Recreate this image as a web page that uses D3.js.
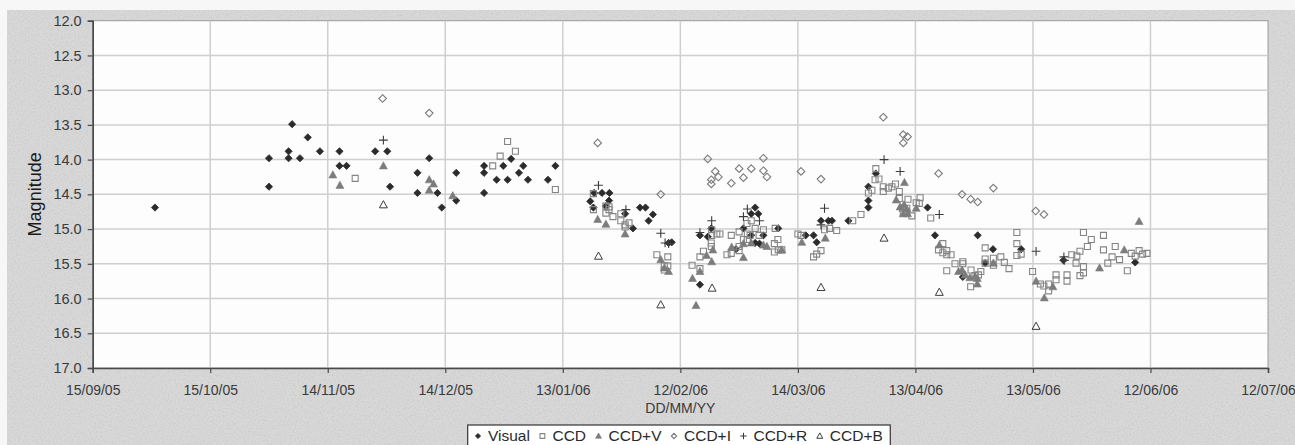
<!DOCTYPE html>
<html><head><meta charset="utf-8">
<script src="https://cdn.jsdelivr.net/npm/d3@7"></script>
<style>
html,body{margin:0;padding:0;background:#fafafa;}
svg{display:block;font-family:"Liberation Sans",Arial,sans-serif;}
</style></head>
<body>
<svg id="chart" width="1295" height="445"></svg>
<script>
// JD - 2453000 ; magnitude
const jdBase = 628.5; // JD 2453628.5 = 15/09/05
const xTickLabels = ["15/09/05","15/10/05","14/11/05","14/12/05","13/01/06","12/02/06","14/03/06","13/04/06","13/05/06","12/06/06","12/07/06"];
const yTicks = [12.0,12.5,13.0,13.5,14.0,14.5,15.0,15.5,16.0,16.5,17.0];
const seriesNames = ["Visual","CCD","CCD+V","CCD+I","CCD+R","CCD+B"];

const visual = [
[644.4,14.69],[673.5,13.98],[673.5,14.39],[678.5,13.88],[678.5,13.98],[679.4,13.49],[681.4,13.98],[683.4,13.68],[686.5,13.88],
[691.5,13.88],[691.5,14.09],[693.3,14.09],[700.6,13.88],[703.7,13.88],[704.4,14.39],[711.4,14.19],[711.4,14.48],[714.4,13.98],
[716.5,14.48],[717.6,14.69],[721.3,14.19],[721.3,14.59],[728.4,14.09],[728.4,14.19],[728.4,14.48],[731.6,14.29],[733.3,14.09],
[734.4,14.29],[735.3,13.99],[737.3,14.19],[738.4,14.09],[739.6,14.29],[744.7,14.29],[746.6,14.09],
[756.5,14.48],[758.5,14.48],[760.4,14.48],[760.3,14.59],[755.5,14.60],[756.3,14.69],[759.5,14.67],[764.4,14.78],[766.4,14.99],
[768.2,14.69],[769.6,14.69],[771.5,14.79],[770.4,14.88],[776.3,15.19],[775.5,15.20],[786.4,14.99],[783.5,15.09],[785.5,15.11],
[783.5,15.80],[797.6,14.69],[796.6,14.78],[798.4,14.78],[794.6,14.99],[796.6,15.09],[799.7,15.09],[803.5,14.99],[797.6,15.20],
[798.7,15.21],[792.7,15.29],[810.5,15.09],[812.5,15.09],[813.3,15.19],[814.4,14.88],[816.3,14.88],[817.2,14.88],[821.4,14.88],
[826.5,14.69],[826.5,14.59],[826.5,14.39],[828.4,14.20],[841.6,14.69],[843.5,15.09],[850.6,15.69],[854.4,15.09],[856.3,15.49],
[858.3,15.29],[865.5,15.29],[876.3,15.45],[894.6,15.48]
];
const ccd = [
[695.5,14.27],[730.6,14.09],[732.5,13.95],[734.4,13.74],[736.4,13.88],[746.6,14.43],
[756.3,14.49],[756.3,14.72],[759.5,14.67],[760.3,14.68],[759.5,14.77],[760.3,14.72],[761.3,14.82],[763.3,14.78],[763.3,14.88],
[764.4,14.94],[765.4,14.91],[764.4,14.97],[772.5,15.37],[775.3,15.40],[774.4,15.53],[775.3,15.53],[774.4,15.59],
[786.5,15.09],[787.8,15.07],[788.6,15.07],[786.4,15.20],[786.4,15.25],[784.4,15.32],[783.5,15.40],[781.5,15.52],[783.5,15.57],
[786.5,15.01],[791.5,15.09],[790.4,15.37],[791.5,15.35],[793.5,15.25],[793.5,15.31],[793.5,15.04],[795.5,14.92],[796.6,14.88],
[797.6,14.99],[799.7,15.01],[795.6,15.07],[798.6,15.09],[794.6,15.15],[795.6,15.15],[796.3,15.09],[802.7,14.99],[803.4,15.15],
[802.5,15.21],[802.5,15.33],[803.5,15.30],[804.4,15.30],[808.5,15.07],[809.3,15.09],[815.3,15.01],[816.6,14.99],[818.4,15.02],
[814.4,15.31],[813.3,15.36],[812.5,15.40],[822.5,14.88],[824.6,14.79],[826.5,14.48],[827.4,14.44],[828.2,14.29],[829.2,14.28],
[828.4,14.13],[830.3,14.39],[830.3,14.46],[831.6,14.41],[832.5,14.39],[833.4,14.35],[834.4,14.46],[834.4,14.56],[836.6,14.57],
[839.7,14.55],[839.5,14.63],[838.7,14.62],[835.4,14.77],[837.6,14.81],[836.3,14.76],[842.4,14.84],[835.2,14.70],[836.3,14.70],
[845.5,15.21],[844.4,15.30],[845.5,15.34],[846.5,15.31],[846.5,15.37],[847.6,15.37],[848.6,15.50],[850.6,15.47],[850.6,15.50],
[846.5,15.60],[852.7,15.59],[855.2,15.61],[852.6,15.83],[853.7,15.67],[854.6,15.66],[856.3,15.27],[856.3,15.43],[858.4,15.42],
[858.4,15.52],[856.3,15.49],[860.3,15.40],[861.2,15.48],[862.4,15.57],[864.4,15.05],[864.4,15.21],[864.4,15.38],[865.5,15.36],
[868.4,15.61],[870.4,15.79],[871.3,15.82],[872.5,15.79],[872.5,15.89],[874.4,15.66],[874.4,15.73],[877.2,15.66],[877.2,15.75],
[878.4,15.37],[879.7,15.39],[880.5,15.32],[882.4,15.25],[883.4,15.15],[881.4,15.05],[886.5,15.09],[879.5,15.49],[881.4,15.54],
[881.4,15.63],[880.5,15.67],[886.5,15.30],[887.6,15.49],[888.7,15.40],[889.5,15.25],[890.6,15.44],[892.6,15.60],[893.6,15.35],
[894.6,15.39],[895.6,15.31],[896.5,15.36],[897.6,15.35]
];
const ccdV = [
[689.8,14.22],[691.6,14.37],[702.7,14.09],[714.4,14.29],[715.5,14.35],[714.4,14.44],[720.4,14.52],[757.4,14.86],[759.5,14.93],
[764.4,15.07],[773.5,15.44],[774.4,15.56],[775.5,15.61],[786.8,15.30],[785.2,15.38],[786.5,15.47],[783.5,15.61],[781.6,15.71],
[782.5,16.10],[791.6,15.26],[794.6,15.21],[796.6,15.20],[799.7,15.23],[800.6,15.25],[794.6,15.41],[804.4,15.30],[809.5,15.19],
[815.5,15.13],[835.7,14.33],[833.6,14.58],[834.6,14.68],[836.3,14.71],[838.7,14.70],[835.6,14.65],[835.4,14.78],[836.5,14.78],
[844.6,15.23],[849.5,15.61],[850.4,15.59],[851.2,15.66],[852.4,15.70],[853.7,15.68],[854.3,15.71],[854.3,15.79],[858.4,15.49],
[869.3,15.75],[871.4,15.99],[873.6,15.83],[885.5,15.56],[891.8,15.30],[895.6,14.89]
];
const ccdI = [
[702.5,13.12],[714.4,13.33],[757.4,13.76],[773.5,14.50],[785.5,13.99],[787.4,14.17],[788.2,14.25],[786.4,14.29],[786.4,14.35],
[791.5,14.34],[793.5,14.13],[794.6,14.26],[796.6,14.13],[799.7,13.98],[799.7,14.16],[800.6,14.25],[809.3,14.17],[814.4,14.28],
[830.3,13.39],[835.4,13.64],[836.5,13.67],[835.4,13.76],[844.4,14.20],[850.4,14.50],[852.6,14.57],[854.4,14.61],[858.4,14.41],
[869.2,14.74],[871.3,14.79]
];
const ccdR = [
[702.7,13.72],[757.6,14.37],[764.6,14.72],[773.5,15.06],[774.6,15.20],[775.5,15.21],[786.5,14.88],[783.5,15.05],[795.6,14.71],
[794.6,14.82],[798.7,14.88],[815.3,14.70],[814.4,14.94],[830.5,14.00],[834.6,14.17],[844.6,14.79],[869.3,15.32],[876.4,15.40],
[876.5,15.45]
];
const ccdB = [
[702.7,14.65],[757.6,15.39],[773.5,16.09],[786.6,15.85],[814.4,15.84],[830.5,15.13],[844.6,15.91],[869.3,16.40]
];

const seriesData = [visual, ccd, ccdV, ccdI, ccdR, ccdB];

const svg = d3.select("#chart");
const W = 1295, H = 445;
const plot = {left: 92.7, top: 20.7, right: 1268, bottom: 368};

const parseTick = d3.utcParse("%d/%m/%y");
const fmtTick = d3.utcFormat("%d/%m/%y");
const tickDates = xTickLabels.map(parseTick);
const baseMs = tickDates[0].getTime();
const jdToDate = jd => new Date(baseMs + (jd - jdBase) * 86400000);

const x = d3.scaleUtc().domain([tickDates[0], tickDates[tickDates.length-1]]).range([plot.left, plot.right]);
const y = d3.scaleLinear().domain([12, 17]).range([plot.top, plot.bottom]);

// background texture
const defs = svg.append("defs");
const f = defs.append("filter").attr("id","noise").attr("x",0).attr("y",0).attr("width","100%").attr("height","100%");
f.append("feTurbulence").attr("type","fractalNoise").attr("baseFrequency","0.6").attr("numOctaves",3).attr("seed",7).attr("result","t");
f.append("feColorMatrix").attr("in","t").attr("type","matrix")
  .attr("values","0 0 0 0 0.55  0 0 0 0 0.55  0 0 0 0 0.55  3.2 0 0 0 -1.35");

svg.append("rect").attr("x",0).attr("y",0).attr("width",W).attr("height",H).attr("fill","#f7f7f7");
svg.append("rect").attr("x",7).attr("y",10).attr("width",W-7).attr("height",H-10).attr("fill","#d8d8d8");
svg.append("rect").attr("x",7).attr("y",10).attr("width",W-7).attr("height",H-10).attr("filter","url(#noise)").attr("opacity",0.45);

// plot area
svg.append("rect").attr("x",plot.left).attr("y",plot.top).attr("width",plot.right-plot.left).attr("height",plot.bottom-plot.top)
  .attr("fill","#fdfdfd").attr("stroke","#9a9a9a").attr("stroke-width",1);

// gridlines
const grid = svg.append("g");
grid.selectAll("line.h").data(yTicks.slice(1,-1)).join("line")
  .attr("x1",plot.left).attr("x2",plot.right).attr("y1",d=>y(d)).attr("y2",d=>y(d))
  .attr("stroke","#cfcfcf").attr("stroke-width",1.5);
grid.selectAll("line.v").data(tickDates.slice(1,-1)).join("line")
  .attr("y1",plot.top).attr("y2",plot.bottom).attr("x1",d=>x(d)).attr("x2",d=>x(d))
  .attr("stroke","#cfcfcf").attr("stroke-width",1.5);

// axes
const yAxis = d3.axisLeft(y).tickValues(yTicks).tickFormat(d3.format(".1f")).tickSize(5).tickPadding(6);
const gy = svg.append("g").attr("transform",`translate(${plot.left},0)`).call(yAxis);
const xAxis = d3.axisBottom(x).tickValues(tickDates).tickFormat(fmtTick).tickSize(5).tickPadding(12);
const gx = svg.append("g").attr("transform",`translate(0,${plot.bottom})`).call(xAxis);
[gx, gy].forEach(g => {
  g.select(".domain").attr("stroke","#4a4a4a").attr("stroke-width",1.6);
  g.selectAll(".tick line").attr("stroke","#4a4a4a").attr("stroke-width",1.2);
  g.selectAll(".tick text").attr("fill","#3a3a3a").style("font-family","'Liberation Sans',Arial,sans-serif");
});
gy.selectAll(".tick text").style("font-size","14.5px");
gx.selectAll(".tick text").style("font-size","14px");

// axis titles
svg.append("text").attr("transform",`translate(41,${(plot.top+plot.bottom)/2}) rotate(-90)`)
  .attr("text-anchor","middle").attr("font-size",18).attr("fill","#1a1a1a").text("Magnitude");
svg.append("text").attr("x",(plot.left+plot.right)/2).attr("y",413)
  .attr("text-anchor","middle").attr("font-size",14).attr("fill","#3a3a3a").text("DD/MM/YY");

// marker shapes
const shapes = {
  "Visual": s => `M0,${-s}L${s},0L0,${s}L${-s},0Z`,
  "CCD": s => `M${-s},${-s}H${s}V${s}H${-s}Z`,
  "CCD+V": s => `M0,${-s*1.15}L${s*1.1},${s*0.85}L${-s*1.1},${s*0.85}Z`,
  "CCD+I": s => `M0,${-s}L${s},0L0,${s}L${-s},0Z`,
  "CCD+R": s => `M${-s},0H${s}M0,${-s}V${s}`,
  "CCD+B": s => `M0,${-s*1.15}L${s*1.1},${s*0.85}L${-s*1.1},${s*0.85}Z`
};
const styles = {
  "Visual": {size:3.6, fill:"#2b2b2b", stroke:"#2b2b2b", sw:0.8},
  "CCD":    {size:3.0, fill:"none", stroke:"#858585", sw:1.1},
  "CCD+V":  {size:3.6, fill:"#7c7c7c", stroke:"#7c7c7c", sw:0.6},
  "CCD+I":  {size:3.8, fill:"none", stroke:"#7a7a7a", sw:1.1},
  "CCD+R":  {size:4.4, fill:"none", stroke:"#3c3c3c", sw:1.1},
  "CCD+B":  {size:3.6, fill:"none", stroke:"#3c3c3c", sw:1.0}
};

const marks = svg.append("g");
seriesNames.forEach((name, i) => {
  const st = styles[name];
  marks.append("g").attr("class","series").selectAll("path").data(seriesData[i]).join("path")
    .attr("transform", d => `translate(${x(jdToDate(d[0]))},${y(d[1])})`)
    .attr("d", shapes[name](st.size))
    .attr("fill", st.fill).attr("stroke", st.stroke).attr("stroke-width", st.sw);
});

// legend
const leg = svg.append("g");
const legBox = leg.append("rect").attr("y",425).attr("height",26).attr("fill","#ffffff").attr("stroke","#333").attr("stroke-width",1.2);
let cx = 488;
const legStyles = {
  "Visual": {size:2.6}, "CCD": {size:2.4}, "CCD+V": {size:2.7}, "CCD+I": {size:2.7}, "CCD+R": {size:3.2}, "CCD+B": {size:2.7}
};
seriesNames.forEach((name) => {
  const st = styles[name];
  leg.append("path").attr("transform",`translate(${cx-10},436)`).attr("d",shapes[name](legStyles[name].size))
    .attr("fill",st.fill).attr("stroke",st.stroke).attr("stroke-width",st.sw);
  const t = leg.append("text").attr("x",cx).attr("y",441).attr("font-size",15.5).attr("fill","#2a2a2a").text(name);
  cx += t.node().getComputedTextLength() + 22.5;
});
legBox.attr("x",467.7).attr("width", cx - 22.5 + 7.5 - 467.7);
</script>
</body></html>
